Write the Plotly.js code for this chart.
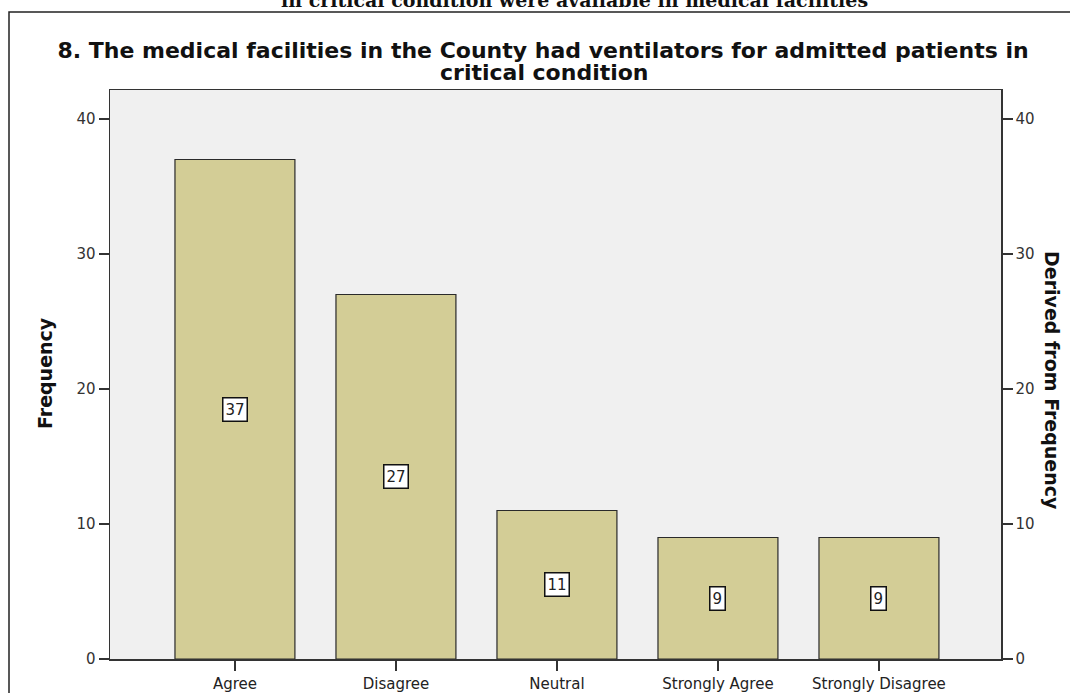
<!DOCTYPE html>
<html>
<head>
<meta charset="utf-8">
<script src="https://cdn.plot.ly/plotly-3.0.1.min.js"></script>
<style>html,body{margin:0;padding:0;background:#fff;}#chart{width:1070px;height:693px;}</style>
</head>
<body>
<div id="chart"></div>
<script>
const categories = ["Agree", "Disagree", "Neutral", "Strongly Agree", "Strongly Disagree"];
const frequencies = [37, 27, 11, 9, 9];
const yTicks = [0, 10, 20, 30, 40];
const titleLine1 = "8. The medical facilities in the County had ventilators for admitted patients in";
const titleLine2 = "critical condition";
const cutTopText = "in critical condition were available in medical facilities";
const leftAxisTitle = "Frequency";
const rightAxisTitle = "Derived from Frequency";

const FONT = "DejaVu Sans, Arial, sans-serif";
const yMax = 42.15;

const barTrace = {
  type: "bar",
  x: categories,
  y: frequencies,
  marker: { color: "#D3CD96", line: { color: "#2a2a2a", width: 1.2 } },
  hoverinfo: "x+y",
  showlegend: false
};
const rightTrace = {
  type: "scatter",
  mode: "markers",
  x: categories,
  y: frequencies,
  yaxis: "y2",
  marker: { opacity: 0 },
  hoverinfo: "skip",
  showlegend: false
};

const labelAnns = categories.map((c, i) => ({
  x: c, y: frequencies[i] / 2, xref: "x", yref: "y",
  text: String(frequencies[i]), showarrow: false,
  bgcolor: "#ffffff", bordercolor: "#111111", borderwidth: 1.5, borderpad: 2,
  font: { family: FONT, size: 15, color: "#222" }
}));

const layout = {
  width: 1070, height: 693,
  margin: { l: 110, r: 69, t: 90, b: 34, pad: 0 },
  paper_bgcolor: "#ffffff",
  plot_bgcolor: "#F0F0F0",
  bargap: 0.255,
  title: {
    text: titleLine1,
    x: 0.5075, xref: "container", xanchor: "center",
    y: 1 - 50 / 693, yref: "container", yanchor: "middle",
    font: { family: FONT, size: 22, color: "#111", weight: "bold" }
  },
  xaxis: {
    type: "category",
    range: [-0.776, 4.758],
    showline: true, linecolor: "#333", linewidth: 1.5, mirror: true,
    ticks: "outside", ticklen: 10, tickcolor: "#333", tickwidth: 1.5,
    tickfont: { family: FONT, size: 15, color: "#222" },
    showgrid: false, zeroline: false, fixedrange: true
  },
  yaxis: {
    range: [0, yMax],
    tickvals: yTicks,
    showline: true, linecolor: "#333", linewidth: 1.5, mirror: true,
    ticks: "outside", ticklen: 10, tickcolor: "#333", tickwidth: 1.5,
    tickfont: { family: FONT, size: 15, color: "#333" },
    showgrid: false, zeroline: false, fixedrange: true
  },
  yaxis2: {
    overlaying: "y", side: "right",
    range: [0, yMax],
    tickvals: yTicks,
    showline: true, linecolor: "#333", linewidth: 1.5,
    ticks: "outside", ticklen: 10, tickcolor: "#333", tickwidth: 1.5,
    tickfont: { family: FONT, size: 15, color: "#333" },
    showgrid: false, zeroline: false, fixedrange: true
  },
  shapes: [{
    type: "rect", xref: "paper", yref: "paper",
    x0: (9 - 110) / 891, x1: (1100 - 110) / 891,
    y0: (659 - 720) / 569, y1: (659 - 12) / 569,
    line: { color: "#222", width: 1.5 }, fillcolor: "rgba(0,0,0,0)", layer: "below"
  }],
  annotations: labelAnns.concat([
    {
      text: titleLine2, xref: "paper", yref: "paper",
      x: (544 - 110) / 891, y: (659 - 72) / 569, showarrow: false,
      xanchor: "center", yanchor: "middle",
      font: { family: FONT, size: 22, color: "#111", weight: "bold" }
    },
    {
      text: leftAxisTitle, xref: "paper", yref: "paper",
      x: (45 - 110) / 891, y: (659 - 373) / 569, textangle: -90, showarrow: false,
      xanchor: "center", yanchor: "middle",
      font: { family: FONT, size: 19, color: "#111", weight: "bold" }
    },
    {
      text: rightAxisTitle, xref: "paper", yref: "paper",
      x: (1052 - 110) / 891, y: (659 - 380) / 569, textangle: 90, showarrow: false,
      xanchor: "center", yanchor: "middle",
      font: { family: FONT, size: 19, color: "#111", weight: "bold" }
    },
    {
      text: cutTopText, xref: "paper", yref: "paper",
      x: (574 - 110) / 891, y: (659 - 0) / 569, showarrow: false,
      xanchor: "center", yanchor: "middle",
      font: { family: "DejaVu Serif, Liberation Serif, serif", size: 19, color: "#111", weight: "bold" }
    }
  ])
};

Plotly.newPlot("chart", [barTrace, rightTrace], layout, { displayModeBar: false, staticPlot: true });
</script>
</body>
</html>
